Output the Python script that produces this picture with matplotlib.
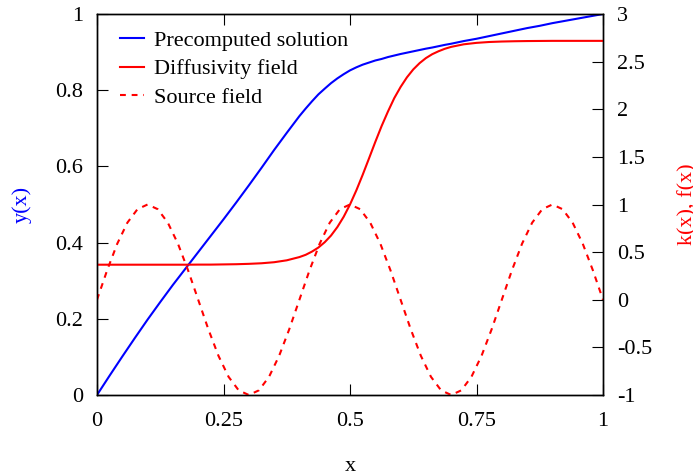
import matplotlib
matplotlib.use("Agg")
import matplotlib.pyplot as plt

plt.rcParams['font.family'] = ['Liberation Serif', 'DejaVu Serif']
plt.rcParams['axes.unicode_minus'] = False

# x grid for solution and diffusivity (finer where k changes fast)
x = [0.0, 0.025, 0.05, 0.075, 0.1, 0.125, 0.15, 0.175, 0.2, 0.225,
     0.25, 0.275, 0.3, 0.325, 0.35, 0.375, 0.4,
     0.4125, 0.425, 0.4375, 0.45, 0.4625, 0.475, 0.4875, 0.5,
     0.5125, 0.525, 0.5375, 0.55, 0.5625, 0.575, 0.5875, 0.6,
     0.6125, 0.625, 0.6375, 0.65, 0.6625, 0.675, 0.6875, 0.7,
     0.725, 0.75, 0.775, 0.8, 0.825, 0.85, 0.875, 0.9, 0.925, 0.95, 0.975, 1.0]

y_sol = [0.0, 0.051, 0.101, 0.150, 0.198, 0.244, 0.289, 0.332, 0.375, 0.418,
         0.461, 0.505, 0.550, 0.596, 0.643, 0.688, 0.732,
         0.752, 0.771, 0.789, 0.804, 0.8185, 0.831, 0.842, 0.852,
         0.860, 0.867, 0.8725, 0.878, 0.882, 0.887, 0.891, 0.895,
         0.8985, 0.902, 0.9055, 0.909, 0.912, 0.9155, 0.919, 0.922,
         0.929, 0.935, 0.942, 0.949, 0.956, 0.963, 0.969, 0.976, 0.982, 0.988, 0.994, 1.0]

k_diff = [0.368, 0.368, 0.368, 0.368, 0.368, 0.368, 0.368, 0.368, 0.369, 0.369,
          0.371, 0.373, 0.377, 0.383, 0.394, 0.414, 0.448,
          0.472, 0.506, 0.548, 0.604, 0.674, 0.763, 0.871, 1.000,
          1.148, 1.311, 1.483, 1.657, 1.824, 1.976, 2.117, 2.234,
          2.335, 2.418, 2.484, 2.537, 2.578, 2.609, 2.635, 2.655,
          2.682, 2.697, 2.706, 2.711, 2.714, 2.716, 2.717, 2.718, 2.718, 2.718, 2.718, 2.718]

# source field sampled at step 0.02
xs = [0.0, 0.02, 0.04, 0.06, 0.08, 0.1, 0.12, 0.14, 0.16, 0.18,
      0.2, 0.22, 0.24, 0.26, 0.28, 0.3, 0.32, 0.34, 0.36, 0.38,
      0.4, 0.42, 0.44, 0.46, 0.48, 0.5, 0.52, 0.54, 0.56, 0.58,
      0.6, 0.62, 0.64, 0.66, 0.68, 0.7, 0.72, 0.74, 0.76, 0.78,
      0.8, 0.82, 0.84, 0.86, 0.88, 0.9, 0.92, 0.94, 0.96, 0.98, 1.0]
f_src = [0.0, 0.309, 0.588, 0.809, 0.951, 1.0, 0.951, 0.809, 0.588, 0.309,
         0.0, -0.309, -0.588, -0.809, -0.951, -1.0, -0.951, -0.809, -0.588, -0.309,
         0.0, 0.309, 0.588, 0.809, 0.951, 1.0, 0.951, 0.809, 0.588, 0.309,
         0.0, -0.309, -0.588, -0.809, -0.951, -1.0, -0.951, -0.809, -0.588, -0.309,
         0.0, 0.309, 0.588, 0.809, 0.951, 1.0, 0.951, 0.809, 0.588, 0.309, 0.0]

xticks = [0, 0.25, 0.5, 0.75, 1]
xtick_labels = ["0", "0.25", "0.5", "0.75", "1"]
yticks = [0, 0.2, 0.4, 0.6, 0.8, 1]
ytick_labels = ["0", "0.2", "0.4", "0.6", "0.8", "1"]
y2ticks = [-1, -0.5, 0, 0.5, 1, 1.5, 2, 2.5, 3]
y2tick_labels = ["-1", "-0.5", "0", "0.5", "1", "1.5", "2", "2.5", "3"]

fs = 16
fig = plt.figure(figsize=(6.93, 4.76), dpi=100)
ax = fig.add_axes([97/693, 81/476, 506/693, 381/476])
ax2 = ax.twinx()

l1, = ax.plot(x, y_sol, color='#0000ff', lw=1.5, label='Precomputed solution')
l2, = ax2.plot(x, k_diff, color='#ff0000', lw=1.5, label='Diffusivity field')
l3, = ax2.plot(xs, f_src, color='#ff0000', lw=1.5, dashes=(2.8, 2.8), label='Source field')

ax.set_xlim(0, 1)
ax.set_ylim(0, 1)
ax2.set_ylim(-1, 3)

ax.set_xticks(xticks)
ax.set_xticklabels(xtick_labels)
ax.set_yticks(yticks)
ax.set_yticklabels(ytick_labels)
ax2.set_yticks(y2ticks)
ax2.set_yticklabels(y2tick_labels)

ax.tick_params(axis='x', direction='in', length=8, width=0.8, top=True,
               labelsize=fs, pad=12)
ax.tick_params(axis='y', direction='in', length=8, width=0.8, labelsize=fs, pad=10)
ax2.tick_params(axis='y', direction='in', length=8, width=0.8, labelsize=fs, pad=10)

for a in (ax, ax2):
    for s in a.spines.values():
        s.set_linewidth(1.0)

ax.set_xlabel('x', fontsize=fs, labelpad=19)
ax.set_ylabel('y(x)', fontsize=fs, color='#0000ff', labelpad=17)
ax2.set_ylabel('k(x), f(x)', fontsize=fs, color='#ff0000', labelpad=19)

ax2.legend(handles=[l1, l2, l3], loc='upper left', frameon=False, fontsize=fs,
           bbox_to_anchor=(0.045, 0.957), borderaxespad=0, borderpad=0,
           handlelength=1.1, handletextpad=0.45, labelspacing=0.36)

fig.savefig('out.png', dpi=100)
